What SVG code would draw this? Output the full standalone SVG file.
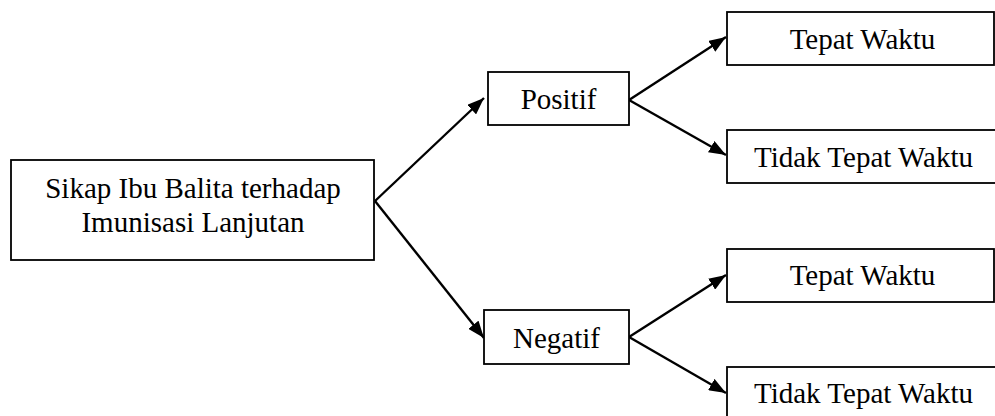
<svg xmlns="http://www.w3.org/2000/svg" width="995" height="416" viewBox="0 0 995 416">
<style>
  .box { fill: #ffffff; stroke: #000000; stroke-width: 1.8; }
  .lbl { font-family: "Liberation Serif", "Times New Roman", serif; font-size: 29px; fill: #000000; text-anchor: middle; }
  .edge { fill: none; stroke: #000000; stroke-width: 2.4; }
</style>
<defs>
  <marker id="arr" markerUnits="userSpaceOnUse" markerWidth="17" markerHeight="13" viewBox="0 0 17 13" refX="17" refY="6.5" orient="auto">
    <path d="M0,0 L17,6.5 L0,13 Z" fill="#000000"/>
  </marker>
</defs>
<rect width="995" height="416" fill="#ffffff"/>
<g id="connectors">
  <line class="edge" x1="375" y1="201" x2="484" y2="98" marker-end="url(#arr)"/>
  <line class="edge" x1="375" y1="201" x2="484" y2="338" marker-end="url(#arr)"/>
  <line class="edge" x1="629" y1="100" x2="726" y2="37" marker-end="url(#arr)"/>
  <line class="edge" x1="629" y1="100" x2="726" y2="155" marker-end="url(#arr)"/>
  <line class="edge" x1="629" y1="337" x2="726" y2="275" marker-end="url(#arr)"/>
  <line class="edge" x1="629" y1="337" x2="726" y2="393" marker-end="url(#arr)"/>
</g>
<g id="node-sikap">
  <rect class="box" x="11" y="160" width="363" height="100"/>
  <text class="lbl" x="193" y="198">Sikap Ibu Balita terhadap</text>
  <text class="lbl" x="193" y="232">Imunisasi Lanjutan</text>
</g>
<g id="node-positif">
  <rect class="box" x="488" y="72" width="141" height="53"/>
  <text class="lbl" x="558.5" y="109">Positif</text>
</g>
<g id="node-negatif">
  <rect class="box" x="484" y="310" width="145" height="54"/>
  <text class="lbl" x="556.5" y="347.5">Negatif</text>
</g>
<g id="node-pos-tepat">
  <rect class="box" x="727" y="12" width="267" height="53"/>
  <text class="lbl" x="862.5" y="48.5">Tepat Waktu</text>
</g>
<g id="node-pos-tidak">
  <rect class="box" x="727" y="130" width="275" height="53"/>
  <text class="lbl" x="863.5" y="166.5">Tidak Tepat Waktu</text>
</g>
<g id="node-neg-tepat">
  <rect class="box" x="727" y="249" width="267" height="53"/>
  <text class="lbl" x="862.5" y="285">Tepat Waktu</text>
</g>
<g id="node-neg-tidak">
  <rect class="box" x="727" y="367" width="275" height="60"/>
  <text class="lbl" x="863.5" y="403">Tidak Tepat Waktu</text>
</g>
</svg>
